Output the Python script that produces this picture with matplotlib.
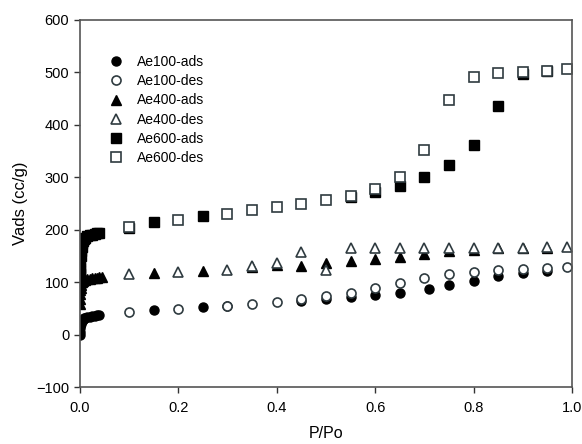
import matplotlib.pyplot as plt

plt.rcParams['font.family'] = ['Liberation Sans', 'DejaVu Sans']

# Ae100
ae100_ads_p = [0.0002, 0.0005, 0.001, 0.0015, 0.002, 0.003, 0.004, 0.006, 0.008, 0.01, 0.015, 0.02,
               0.025, 0.03, 0.035, 0.04, 0.15, 0.25, 0.3, 0.45, 0.5, 0.55, 0.6, 0.65, 0.71, 0.75,
               0.8, 0.85, 0.9, 0.95]
ae100_ads_v = [0, 6, 12, 17, 21, 25, 27, 29, 31, 32, 33, 34, 35, 36, 37, 38, 47, 52, 55, 64, 68,
               72, 76, 80, 87, 94, 103, 112, 118, 122]
ae100_des_p = [0.1, 0.2, 0.3, 0.35, 0.4, 0.45, 0.5, 0.55, 0.6, 0.65, 0.7, 0.75, 0.8, 0.85, 0.9, 0.95, 0.99]
ae100_des_v = [43, 49, 55, 58, 62, 69, 73, 79, 90, 99, 109, 116, 120, 123, 125, 127, 130]

# Ae400
ae400_ads_p = [0.0002, 0.0005, 0.001, 0.0015, 0.002, 0.003, 0.005, 0.007, 0.01, 0.015, 0.02, 0.025,
               0.03, 0.035, 0.04, 0.045, 0.15, 0.25, 0.35, 0.4, 0.45, 0.5, 0.55, 0.6, 0.65, 0.7,
               0.75, 0.8, 0.85, 0.9, 0.95]
ae400_ads_v = [58, 68, 78, 85, 90, 95, 100, 103, 105, 106, 107, 108, 108, 109, 110, 110, 117, 122,
               130, 133, 131, 137, 140, 144, 148, 154, 159, 162, 165, 166, 166]
ae400_des_p = [0.1, 0.2, 0.3, 0.35, 0.4, 0.45, 0.5, 0.55, 0.6, 0.65, 0.7, 0.75, 0.8, 0.85, 0.9, 0.95, 0.99]
ae400_des_v = [115, 120, 124, 131, 136, 157, 123, 165, 166, 166, 166, 166, 166, 166, 166, 167, 168]

# Ae600
ae600_ads_p = [0.0002, 0.0004, 0.0006, 0.0008, 0.001, 0.0015, 0.002, 0.003, 0.004, 0.005, 0.006,
               0.008, 0.01, 0.015, 0.02, 0.025, 0.03, 0.035, 0.04, 0.1, 0.15, 0.25, 0.55, 0.6, 0.65,
               0.7, 0.75, 0.8, 0.85, 0.9, 0.95]
ae600_ads_v = [95, 105, 115, 122, 128, 140, 150, 160, 168, 174, 178, 182, 185, 188, 190, 191, 192,
               193, 194, 203, 215, 226, 262, 272, 284, 300, 324, 362, 436, 497, 503]
ae600_des_p = [0.1, 0.2, 0.3, 0.35, 0.4, 0.45, 0.5, 0.55, 0.6, 0.65, 0.7, 0.75, 0.8, 0.85, 0.9, 0.95, 0.99]
ae600_des_v = [205, 218, 231, 237, 244, 250, 256, 265, 277, 300, 353, 447, 491, 499, 501, 503, 507]

edge = '#2f3b40'

fig = plt.figure(figsize=(5.82, 4.44), dpi=100)
ax = fig.add_axes([0.137, 0.128, 0.846, 0.827])

ms = 6.5
ax.plot(ae100_ads_p, ae100_ads_v, 'o', ms=ms, mfc='black', mec='black', label='Ae100-ads')
ax.plot(ae100_des_p, ae100_des_v, 'o', ms=ms, mfc='white', mec=edge, mew=1.2, label='Ae100-des')
ax.plot(ae400_ads_p, ae400_ads_v, '^', ms=ms, mfc='black', mec='black', label='Ae400-ads')
ax.plot(ae400_des_p, ae400_des_v, '^', ms=ms, mfc='white', mec=edge, mew=1.2, label='Ae400-des')
ax.plot(ae600_ads_p, ae600_ads_v, 's', ms=ms, mfc='black', mec='black', label='Ae600-ads')
ax.plot(ae600_des_p, ae600_des_v, 's', ms=ms, mfc='white', mec=edge, mew=1.2, label='Ae600-des')

ax.set_xlim(0, 1.0)
ax.set_ylim(-100, 600)
ax.set_xticks([0.0, 0.2, 0.4, 0.6, 0.8, 1.0])
ax.set_xticklabels(['0.0', '0.2', '0.4', '0.6', '0.8', '1.0'])
ax.set_yticks(range(-100, 601, 100))
ax.tick_params(direction='out', length=4, width=1, colors='#333333', labelsize=10.5,
               labelcolor='black')
ax.tick_params(axis='x', pad=6)
for s in ax.spines.values():
    s.set_color('#555555')
    s.set_linewidth(1.2)

ax.set_xlabel('P/Po', fontsize=11.5, labelpad=8)
ax.set_ylabel('Vads (cc/g)', fontsize=12, labelpad=6)

ax.legend(loc='upper left', bbox_to_anchor=(0.035, 0.92), frameon=False, fontsize=10,
          handletextpad=0.5, labelspacing=0.38, borderaxespad=0)

fig.savefig('out.png', dpi=100)
